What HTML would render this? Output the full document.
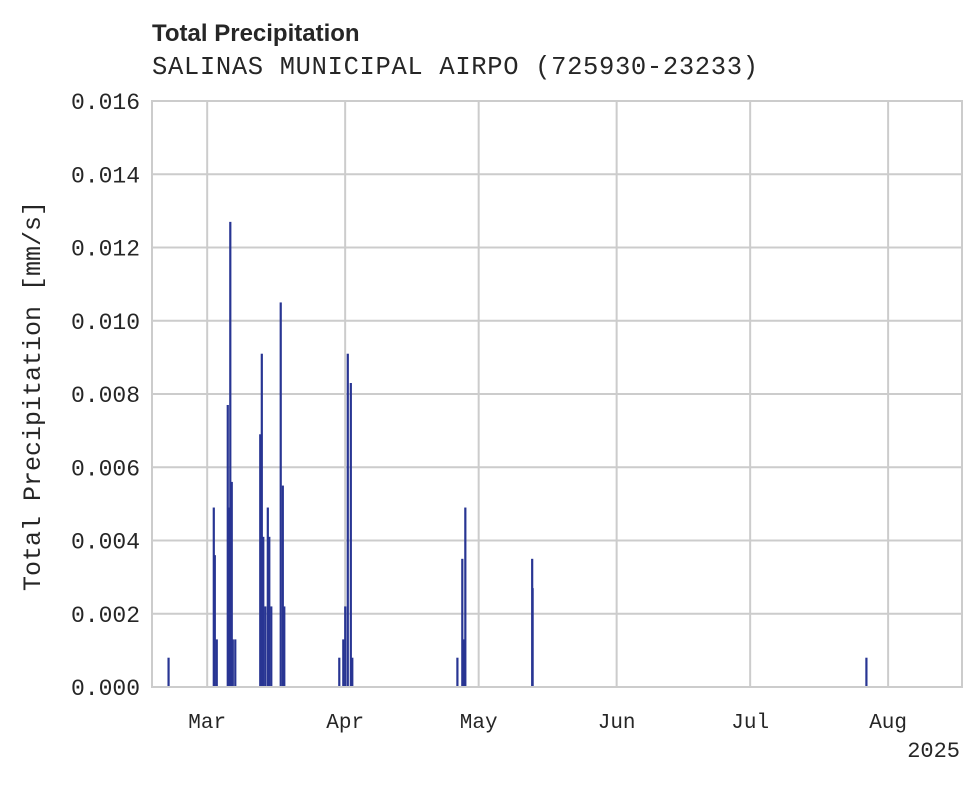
<!DOCTYPE html>
<html><head><meta charset="utf-8"><style>
body{margin:0;background:#fff}
svg text{fill:#262626}
.mono{font-family:"Liberation Mono",monospace}
</style></head><body>
<svg id="chart" width="980" height="783" xmlns="http://www.w3.org/2000/svg">
<text x="152" y="41" font-family="Liberation Sans, sans-serif" font-weight="bold" font-size="24">Total Precipitation</text>
<text class="mono" x="152" y="74" font-size="25.5" textLength="606">SALINAS MUNICIPAL AIRPO (725930-23233)</text>
<g id="grid"></g>
<g id="bars"></g>
<rect x="152" y="101" width="810" height="586" fill="none" stroke="#cccccc" stroke-width="2"/>
<g id="ticks"></g>
<text class="mono" font-size="25" transform="translate(40,396) rotate(-90)" text-anchor="middle">Total Precipitation [mm/s]</text>
<text class="mono" x="960" y="757" font-size="22" text-anchor="end">2025</text>
</svg>
<script>
// days since 2025-03-01
const barDays=[-8.7,1.46,1.69,2.13,4.6,4.83,5.17,5.5,5.73,6.29,11.9,12.25,12.58,13.03,13.6,13.93,14.38,16.5,16.97,17.3,29.66,30.56,31.0,31.57,32.25,32.58,56.2,57.3,57.64,57.98,73.0,73.1,148.1];
const barValues=[0.0008,0.0049,0.0036,0.0013,0.0077,0.0049,0.0127,0.0056,0.0013,0.0013,0.0069,0.0091,0.0041,0.0022,0.0049,0.0041,0.0022,0.0105,0.0055,0.0022,0.0008,0.0013,0.0022,0.0091,0.0083,0.0008,0.0008,0.0035,0.0013,0.0049,0.0035,0.0027,0.0008];
const yTicks=[0,0.002,0.004,0.006,0.008,0.010,0.012,0.014,0.016];
const monthLabels=["Mar","Apr","May","Jun","Jul","Aug"];
const monthDays=[0,31,61,92,122,153];
const ns="http://www.w3.org/2000/svg";
const x=d=>152+(d+12.4)*(810/182);
const y=v=>687-v*(586/0.016);
function mk(tag,attrs,parent){const e=document.createElementNS(ns,tag);for(const k in attrs)e.setAttribute(k,attrs[k]);document.getElementById(parent).appendChild(e);return e;}
yTicks.forEach(t=>{
 const l=mk('line',{x1:152,x2:962,y1:y(t),y2:y(t),stroke:'#cccccc','stroke-width':2},'grid');
 
 
 const tx=mk('text',{x:140,y:y(t)+8,'font-size':23,'text-anchor':'end',class:'mono'},'ticks');
 tx.textContent=t.toFixed(3);
 
 
});
monthDays.forEach((d,i)=>{
 const l=mk('line',{x1:x(d),x2:x(d),y1:101,y2:687,stroke:'#cccccc','stroke-width':2},'grid');
 
 
 const tx=mk('text',{x:x(d),y:728,'font-size':21,'text-anchor':'middle',class:'mono'},'ticks');
 tx.textContent=monthLabels[i];
 
 
});
barDays.forEach((d,i)=>{
 const r=mk('rect',{x:x(d)-1,y:y(barValues[i]),width:2.2,height:687-y(barValues[i]),fill:'#283593'},'bars');
 
 
});
</script>
</body></html>
